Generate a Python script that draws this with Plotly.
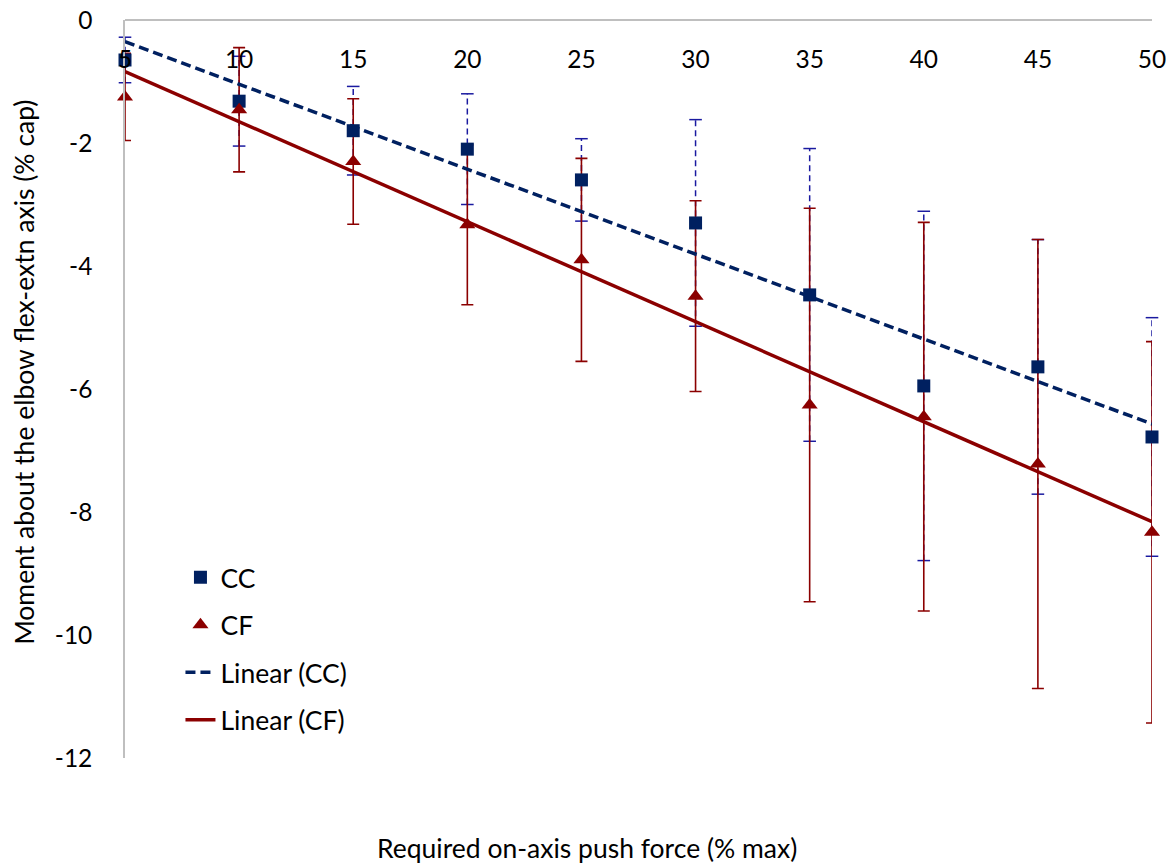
import numpy as np
import plotly.graph_objects as go

# ---- data ----
push_force = [5, 10, 15, 20, 25, 30, 35, 40, 45, 50]
cc_mean = [-0.65, -1.32, -1.80, -2.10, -2.60, -3.30, -4.47, -5.95, -5.64, -6.78]
cc_err = [0.37, 0.73, 0.72, 0.90, 0.67, 1.68, 2.38, 2.84, 2.07, 1.94]
cf_mean = [-1.25, -1.46, -2.30, -3.33, -3.90, -4.49, -6.26, -6.45, -7.22, -8.33]
cf_err = [0.71, 1.01, 1.02, 1.30, 1.65, 1.55, 3.20, 3.16, 3.65, 3.10]
x_ticks = [5, 10, 15, 20, 25, 30, 35, 40, 45, 50]
y_ticks = [0, -2, -4, -6, -8, -10, -12]

CC_COLOR = "#002060"
CC_ERR_COLOR = "#1a1aa0"
CF_COLOR = "#8B0000"
FONT = "Lato"

x = np.array(push_force, dtype=float)
cc = np.array(cc_mean)
cf = np.array(cf_mean)

# linear trendlines (least squares, like Excel)
cc_fit = np.polyfit(x, cc, 1)
cf_fit = np.polyfit(x, cf, 1)
x_line = np.array([min(push_force), max(push_force)], dtype=float)

# dashed CC error bars built from the data
ex, ey = [], []
for xi, yi, ei in zip(push_force, cc_mean, cc_err):
    ex += [xi, xi, None]
    ey += [yi - ei, yi + ei, None]
cap_x = push_force + push_force
cap_y = [m + e for m, e in zip(cc_mean, cc_err)] + [m - e for m, e in zip(cc_mean, cc_err)]

fig = go.Figure()

fig.add_trace(go.Scatter(x=ex, y=ey, mode="lines", showlegend=False, hoverinfo="skip",
                         cliponaxis=False,
                         line=dict(color=CC_ERR_COLOR, width=1.5, dash="6px,4px")))
fig.add_trace(go.Scatter(x=cap_x, y=cap_y, mode="markers", showlegend=False, hoverinfo="skip",
                         cliponaxis=False,
                         marker=dict(symbol="line-ew", size=9,
                                     line=dict(color=CC_ERR_COLOR, width=1.5))))
fig.add_trace(go.Scatter(x=push_force, y=cf_mean, mode="markers", showlegend=False,
                         hoverinfo="skip", cliponaxis=False, marker=dict(size=1, opacity=0),
                         error_y=dict(type="data", array=cf_err, visible=True,
                                      color=CF_COLOR, thickness=1.6, width=6)))

fig.add_trace(go.Scatter(x=x_line, y=np.polyval(cc_fit, x_line), mode="lines",
                         name="Linear (CC)", legendrank=3, legendgroup="g3", cliponaxis=False,
                         line=dict(color=CC_COLOR, width=3.5, dash="10px,5px")))
fig.add_trace(go.Scatter(x=x_line, y=np.polyval(cf_fit, x_line), mode="lines",
                         name="Linear (CF)", legendrank=4, legendgroup="g4", cliponaxis=False,
                         line=dict(color=CF_COLOR, width=3.5)))

fig.add_trace(go.Scatter(x=push_force, y=cc_mean, mode="markers", name="CC", legendrank=1,
                         legendgroup="g1", cliponaxis=False,
                         marker=dict(symbol="square", size=13, color=CC_COLOR)))
fig.add_trace(go.Scatter(x=push_force, y=cf_mean, mode="markers", name="CF", legendrank=2,
                         legendgroup="g2", cliponaxis=False,
                         marker=dict(symbol="triangle-up", size=14, color=CF_COLOR)))

fig.update_layout(
    width=1166, height=855,
    margin=dict(l=117, r=22, t=12, b=105, autoexpand=False),
    plot_bgcolor="white", paper_bgcolor="white",
    font=dict(family=FONT, size=24, color="#000000"),
    showlegend=True,
    legend=dict(x=0.054, y=0.277, xanchor="left", yanchor="top",
                bgcolor="rgba(0,0,0,0)", font=dict(family=FONT, size=26.5),
                traceorder="grouped", tracegroupgap=10, itemwidth=30),
    xaxis=dict(range=[5, 50], tickvals=x_ticks, ticktext=[str(v) for v in x_ticks],
               anchor="free", position=1, side="bottom", automargin=False,
               showline=True, linecolor="#BFBFBF", linewidth=1.5,
               showgrid=False, zeroline=False, ticks="", ticklabelstandoff=18,
               ticklabeloverflow="allow",
               tickfont=dict(family=FONT, size=24.5)),
    yaxis=dict(range=[-12, 0], tickvals=y_ticks, ticktext=[str(v) for v in y_ticks],
               automargin=False, ticklabeloverflow="allow",
               showline=True, linecolor="#BFBFBF", linewidth=1.5,
               showgrid=False, zeroline=False, ticks="", ticklabelstandoff=26,
               tickfont=dict(family=FONT, size=24.5)),
    annotations=[
        dict(text="Required on-axis push force (% max)", xref="paper", yref="paper",
             x=0.45, y=-0.122, xanchor="center", yanchor="middle", showarrow=False,
             font=dict(family=FONT, size=26.5)),
        dict(text="Moment about the elbow flex-extn axis (% cap)", xref="paper", yref="paper",
             x=-0.0985, y=0.523, xanchor="center", yanchor="middle", showarrow=False,
             textangle=-90, font=dict(family=FONT, size=26.5)),
    ],
)

fig.write_html("out.html")
